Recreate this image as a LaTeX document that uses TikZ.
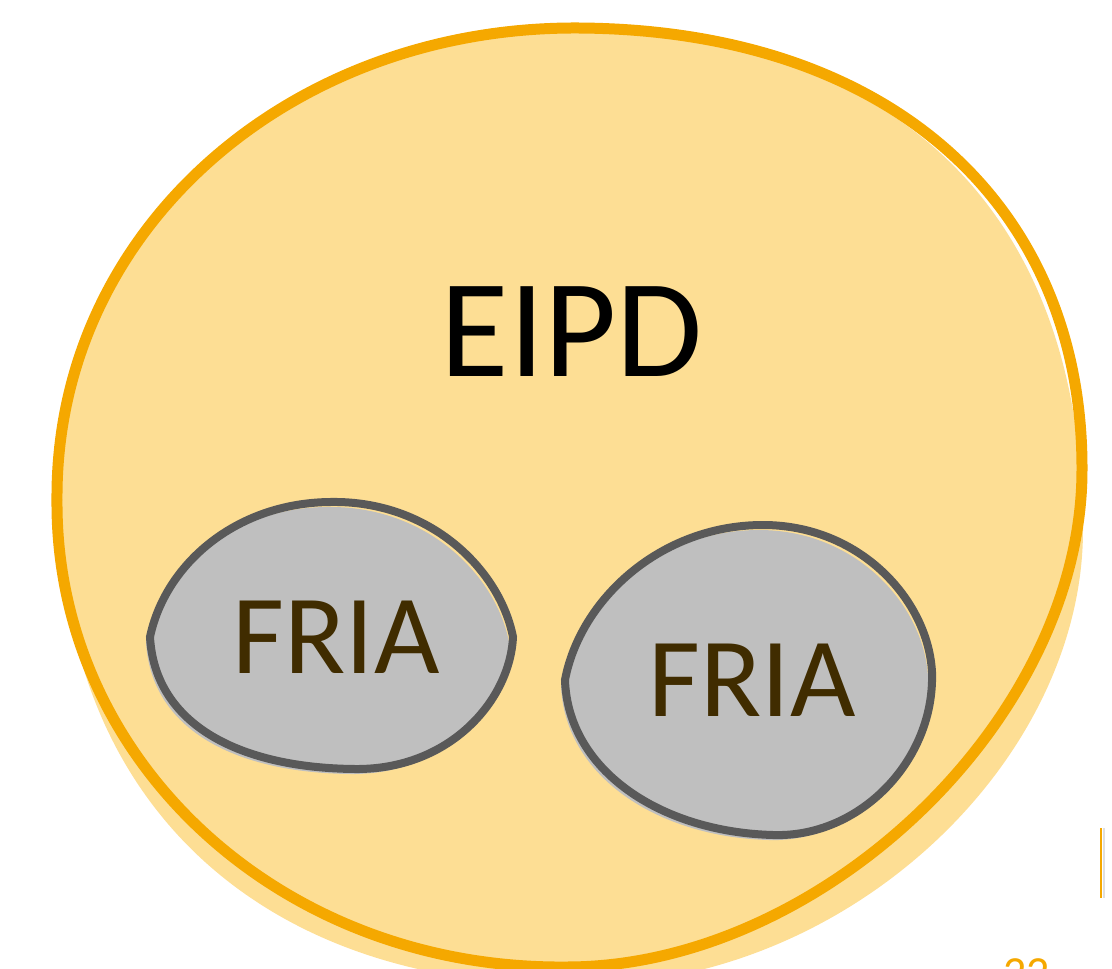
\documentclass[tikz,border=0pt]{standalone}
\usepackage{fontspec}
\setmainfont{Carlito}
\definecolor{eorange}{RGB}{245,168,0}
\definecolor{efill}{RGB}{253,222,148}
\definecolor{gfill}{RGB}{191,191,191}
\definecolor{gline}{RGB}{89,89,89}
\definecolor{ftext}{RGB}{64,44,0}
\tikzset{
  bigline/.style={draw=eorange, line width=11pt},
  bigfill/.style={fill=efill},
  blobline/.style={draw=gline, line width=8pt},
  blobfill/.style={fill=gfill},
  frialabel/.style={inner sep=0pt, text=ftext, font=\fontsize{113}{120}\selectfont},
  eipdlabel/.style={inner sep=0pt, text=black, font=\fontsize{140}{150}\selectfont},
}
\begin{document}
\begin{tikzpicture}[x=1pt,y=-1pt]
\useasboundingbox (0,0) rectangle (1112,969);
\clip (0,0) rectangle (1112,969);
% big shape: fill (offset, sketchy) then outline
\path[bigfill] (60,500) .. controls (58,230) and (290,31) .. (579,33)
  .. controls (885,33) and (1082,200) .. (1083,530)
  .. controls (1083,760) and (850,985) .. (580,985)
  .. controls (250,990) and (58,790) .. (60,500) -- cycle;
\draw[bigline] (57,500) .. controls (55,230) and (290,26) .. (579,28)
  .. controls (890,30) and (1083,205) .. (1082,470)
  .. controls (1082,720) and (820,967) .. (567,967)
  .. controls (280,970) and (55,760) .. (57,500) -- cycle;
% left blob
\path[blobfill, shift={(-4,5)}] (150,637) .. controls (165,565) and (235,503) .. (330,502)
  .. controls (430,500) and (500,570) .. (513,637)
  .. controls (510,700) and (450,770) .. (355,769)
  .. controls (240,768) and (155,725) .. (150,637) -- cycle;
\draw[blobline] (150,637) .. controls (165,565) and (235,503) .. (330,502)
  .. controls (430,500) and (500,570) .. (513,637)
  .. controls (510,700) and (450,770) .. (355,769)
  .. controls (240,768) and (155,725) .. (150,637) -- cycle;
% right blob
\path[blobfill, shift={(-4,5)}] (565,680) .. controls (580,600) and (660,525) .. (763,525)
  .. controls (860,525) and (928,600) .. (932,672)
  .. controls (935,760) and (860,838) .. (773,835)
  .. controls (660,832) and (568,770) .. (565,680) -- cycle;
\draw[blobline] (565,680) .. controls (580,600) and (660,525) .. (763,525)
  .. controls (860,525) and (928,600) .. (932,672)
  .. controls (935,760) and (860,838) .. (773,835)
  .. controls (660,832) and (568,770) .. (565,680) -- cycle;
% labels
\node[eipdlabel] (eipd) at (572,332) {EIPD};
\node[frialabel] (fria1) at (336,637) {FRIA};
\node[frialabel] (fria2) at (752,680) {FRIA};
% slide decorations
\coordinate (barT) at (1101,828);
\coordinate (barB) at (1101,898);
\draw[black!25, line width=2pt, opacity=0.5] ([xshift=2.5pt]barT) -- ([xshift=2.5pt]barB);
\draw[eorange, line width=2pt] (barT) -- (barB);
\node[anchor=base west, inner sep=0pt, text=eorange, font=\fontsize{46}{50}\selectfont] (pagenum) at (1003,988) {22};
\end{tikzpicture}
\end{document}
